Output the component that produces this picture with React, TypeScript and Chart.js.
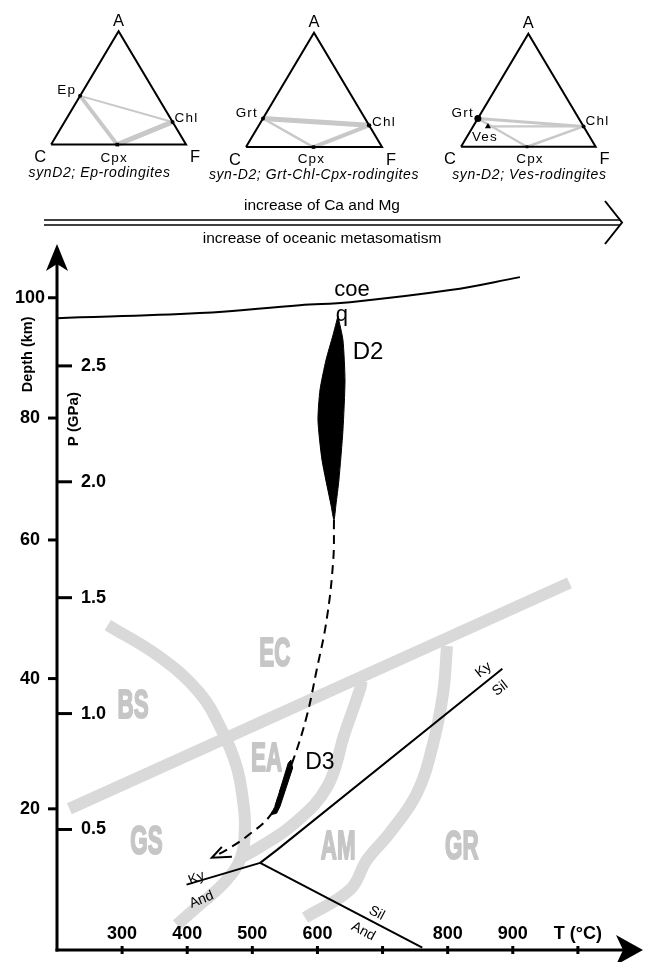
import React, { useEffect, useRef } from 'react';
import { Chart, registerables } from 'chart.js';

Chart.register(...registerables);

const SANS = '"Liberation Sans", Arial, Helvetica, sans-serif';
const W = 652;
const H = 962;
const TRI_H = 192;

// ---------------- axis ticks ----------------
const temperatureRange = [200, 1100];
const pressureRange = [-0.02, 3.0];
const temperatureTicks = [300, 400, 500, 600, 700, 800, 900, 1000];
const temperatureTickLabels = ['300', '400', '500', '600', '', '800', '900', 'T (°C)'];
const pressureTicks = [0.5, 1.0, 1.5, 2.0, 2.5];
const pressureTickLabels = ['0.5', '1.0', '1.5', '2.0', '2.5'];
const depthTickLabels = ['20', '40', '60', '80', '100'];
const depthTickPressure = [0.589, 1.151, 1.749, 2.275, 2.794];

// ---------------- P-T diagram lines, [T (°C), P (GPa)] ----------------
const faciesStraight = [[219, 0.589], [987, 1.564]];
const faciesArcBS = [[278, 1.382], [358, 1.244], [419, 1.089], [455, 0.917], [476, 0.77], [485.5, 0.628], [488.6, 0.511], [482.4, 0.378], [458, 0.274], [419, 0.175], [384, 0.089]];
const faciesArcEA = [[668, 1.141], [665, 1.102], [642, 0.917], [615, 0.684], [562, 0.52], [512, 0.425], [482, 0.378]];
const faciesArcAM = [[799, 1.292], [793, 1.089], [778, 0.874], [753, 0.658], [711.5, 0.486], [676, 0.369], [650, 0.24], [581, 0.119]];
const coeQuartz = [[200, 2.706], [419, 2.728], [573, 2.762], [650, 2.775], [804, 2.827], [911, 2.883]];
const kyaniteSillimanite = [[512, 0.356], [538, 0.412], [884, 1.193]];
const kyaniteAndalusite = [[399, 0.262], [512, 0.356]];
const andalusiteSillimanite = [[512, 0.356], [761, -0.01]];
const d2Field = [[631.5, 2.715], [639.2, 2.611], [642.3, 2.439], [639.2, 2.223], [633, 2.008], [628.4, 1.9], [625.4, 1.835], [620.8, 1.9], [607, 2.094], [600.8, 2.266], [603.9, 2.396], [613.1, 2.525], [623.9, 2.633], [631.5, 2.715]];
const d3Field = [[559.3, 0.8], [561.9, 0.765], [542.4, 0.599], [537.3, 0.57], [528.1, 0.563], [534.7, 0.599], [555.1, 0.786], [559.3, 0.8]];
const retrogradePath = [[625.4, 1.835], [624.3, 1.663], [614.1, 1.404], [598.8, 1.188], [583.4, 0.987], [562.8, 0.8], [545, 0.68], [528.1, 0.563], [491.2, 0.47], [460.4, 0.412], [439.8, 0.382]];
const retrogradeArrowHead = [[453.2, 0.425], [437.8, 0.378], [468.6, 0.382]];

const faciesNames = ['BS', 'EC', 'EA', 'GS', 'AM', 'GR'];
const faciesLabelAt = [[316.8, 1.03], [534.7, 1.253], [522, 0.8], [337.4, 0.441], [632, 0.419], [821.7, 0.419]];

// ---------------- ternary (A-C-F) diagrams ----------------
const epMinerals = [
  { name: 'Ep', a: 0.43, f: 0.0 },
  { name: 'Chl', a: 0.2, f: 0.8 },
  { name: 'Cpx', a: 0.0, f: 0.49 },
];
const epTies = [['Ep', 'Chl'], ['Ep', 'Cpx'], ['Cpx', 'Chl']];
const grtMinerals = [
  { name: 'Grt', a: 0.25, f: 0.0 },
  { name: 'Chl', a: 0.19, f: 0.81 },
  { name: 'Cpx', a: 0.0, f: 0.496 },
];
const grtTies = [['Grt', 'Chl'], ['Grt', 'Cpx'], ['Cpx', 'Chl']];
const vesMinerals = [
  { name: 'Grt', a: 0.25, f: 0.0 },
  { name: 'Ves', a: 0.18, f: 0.11 },
  { name: 'Chl', a: 0.18, f: 0.82 },
  { name: 'Cpx', a: 0.0, f: 0.49 },
];
const vesTies = [['Grt', 'Chl'], ['Ves', 'Chl'], ['Grt', 'Cpx'], ['Cpx', 'Chl']];
const vertexNames = ['A', 'C', 'F'];
const ternaryCaptions = ['synD2; Ep-rodingites', 'syn-D2; Grt-Chl-Cpx-rodingites', 'syn-D2; Ves-rodingites'];
const trendLabels = ['increase of Ca and Mg', 'increase of oceanic metasomatism'];

// ---------------- helpers ----------------
const pts = (arr: number[][]) => arr.map(([x, y]) => ({ x, y }));
const ternaryXY = (a: number, f: number) => ({ x: f + a / 2, y: (a * Math.sqrt(3)) / 2 });

function txt(ctx: CanvasRenderingContext2D, s: string, x: number, y: number, font: string, color: string, align: CanvasTextAlign = 'center', rot = 0, sx = 1, spacing = '0px', stroke = 0) {
  ctx.save();
  ctx.translate(x, y);
  if (rot) ctx.rotate((rot * Math.PI) / 180);
  if (sx !== 1) ctx.scale(sx, 1);
  ctx.font = font;
  ctx.fillStyle = color;
  ctx.textAlign = align;
  ctx.textBaseline = 'middle';
  try { (ctx as any).letterSpacing = spacing; } catch (e) { /* ignore */ }
  ctx.fillText(s, 0, 0);
  if (stroke) {
    ctx.strokeStyle = color;
    ctx.lineWidth = stroke;
    ctx.lineJoin = 'round';
    ctx.strokeText(s, 0, 0);
  }
  ctx.restore();
}

// ---------------- main P-T chart ----------------
const ptDecorPlugin = {
  id: 'ptDecor',
  afterDatasetsDraw(chart: any) {
    const { ctx, chartArea: ca } = chart;
    const xs = chart.scales.x;
    const ys = chart.scales.y;
    const x0 = ca.left;
    const y0 = ca.bottom;
    const X = (t: number) => xs.getPixelForValue(t);
    const Y = (p: number) => ys.getPixelForValue(p);
    ctx.save();
    ctx.strokeStyle = '#000';
    ctx.fillStyle = '#000';
    ctx.lineWidth = 3;
    ctx.lineCap = 'butt';
    // vertical axis + arrow
    ctx.beginPath(); ctx.moveTo(x0, y0 + 1.5); ctx.lineTo(x0, ca.top + 14); ctx.stroke();
    ctx.beginPath();
    ctx.moveTo(x0, ca.top - 6); ctx.lineTo(x0 + 11, ca.top + 21); ctx.lineTo(x0, ca.top + 14); ctx.lineTo(x0 - 11, ca.top + 21);
    ctx.closePath(); ctx.fill();
    // horizontal axis + arrow
    ctx.beginPath(); ctx.moveTo(x0 - 1.5, y0); ctx.lineTo(ca.right - 14, y0); ctx.stroke();
    ctx.beginPath();
    ctx.moveTo(ca.right, y0); ctx.lineTo(ca.right - 27, y0 - 15); ctx.lineTo(ca.right - 20, y0); ctx.lineTo(ca.right - 27, y0 + 15);
    ctx.closePath(); ctx.fill();
    // temperature ticks
    const tickFont = `bold 18px ${SANS}`;
    temperatureTicks.forEach((t, i) => {
      const px = X(t);
      ctx.beginPath(); ctx.moveTo(px, y0 - 4); ctx.lineTo(px, y0 + 4); ctx.stroke();
      if (temperatureTickLabels[i]) txt(ctx, temperatureTickLabels[i], px, y0 - 16, tickFont, '#000');
    });
    // pressure ticks (inside)
    pressureTicks.forEach((p, i) => {
      const py = Y(p);
      ctx.beginPath(); ctx.moveTo(x0, py); ctx.lineTo(x0 + 15, py); ctx.stroke();
      txt(ctx, pressureTickLabels[i], x0 + 24, py, tickFont, '#000', 'left');
    });
    // depth ticks (outside)
    depthTickPressure.forEach((p, i) => {
      const py = Y(p);
      ctx.beginPath(); ctx.moveTo(x0 - 9, py); ctx.lineTo(x0, py); ctx.stroke();
      txt(ctx, depthTickLabels[i], x0 - 27, py, tickFont, '#000');
    });
    // axis titles
    txt(ctx, 'Depth (km)', x0 - 29, Y(2.55), `bold 14.5px ${SANS}`, '#000', 'center', -90);
    txt(ctx, 'P (GPa)', x0 + 17, Y(2.27), `bold 15px ${SANS}`, '#000', 'center', -90);

    // facies labels
    faciesNames.forEach((n, i) => {
      txt(ctx, n, X(faciesLabelAt[i][0]), Y(faciesLabelAt[i][1]), `bold 40px ${SANS}`, '#c6c6c6', 'center', 0, 0.56, '0px', 2);
    });
    // line / field labels
    txt(ctx, 'coe', X(653), Y(2.827), `22px ${SANS}`, '#000');
    txt(ctx, 'q', X(637.6), Y(2.719), `22px ${SANS}`, '#000');
    txt(ctx, 'D2', X(677.6), Y(2.559), `24px ${SANS}`, '#000');
    txt(ctx, 'D3', X(603.8), Y(0.787), `23px ${SANS}`, '#000');
    const small = `14px ${SANS}`;
    txt(ctx, 'Ky', X(855), Y(1.188), small, '#000', 'center', -38);
    txt(ctx, 'Sil', X(880.6), Y(1.109), small, '#000', 'center', -38);
    txt(ctx, 'Ky', X(414.3), Y(0.29), small, '#000', 'center', -22);
    txt(ctx, 'And', X(422), Y(0.197), small, '#000', 'center', -22);
    txt(ctx, 'Sil', X(691), Y(0.139), small, '#000', 'center', 28);
    txt(ctx, 'And', X(670.4), Y(0.06), small, '#000', 'center', 28);

    // trend double arrow above the diagram
    const ax0 = x0 - 13;
    const ax1 = ca.right - 21;
    ctx.lineWidth = 1.6;
    ctx.beginPath(); ctx.moveTo(ax0, 220); ctx.lineTo(ax1 - 2, 220); ctx.stroke();
    ctx.beginPath(); ctx.moveTo(ax0, 225); ctx.lineTo(ax1 - 2, 225); ctx.stroke();
    ctx.lineWidth = 2;
    ctx.beginPath(); ctx.moveTo(ax1 - 17, 201); ctx.lineTo(ax1, 222.5); ctx.lineTo(ax1 - 17, 244); ctx.stroke();
    txt(ctx, trendLabels[0], 322, 206, `15.5px ${SANS}`, '#000');
    txt(ctx, trendLabels[1], 322, 239, `15.5px ${SANS}`, '#000');
    ctx.restore();
  },
};

function line(arr: number[][], color: string, width: number, extra: any = {}) {
  return { data: pts(arr), borderColor: color, borderWidth: width, pointRadius: 0, pointHitRadius: 0, fill: false, tension: 0, ...extra };
}

function PTChart() {
  const ref = useRef<HTMLCanvasElement>(null);
  useEffect(() => {
    const gray = '#d9d9d9';
    const band = { borderCapStyle: 'butt', borderJoinStyle: 'round', order: 5 };
    const chart = new Chart(ref.current as HTMLCanvasElement, {
      type: 'line',
      data: {
        datasets: [
          line(faciesStraight, gray, 12, band),
          line(faciesArcBS, gray, 12, { ...band, tension: 0.4 }),
          line(faciesArcEA, gray, 12, { ...band, tension: 0.4 }),
          line(faciesArcAM, gray, 12, { ...band, tension: 0.4 }),
          line(coeQuartz, '#000', 2, { tension: 0.4, order: 2 }),
          line(kyaniteSillimanite, '#000', 2, { order: 2 }),
          line(kyaniteAndalusite, '#000', 2, { order: 2 }),
          line(andalusiteSillimanite, '#000', 2, { order: 2 }),
          line(retrogradePath, '#000', 2, { tension: 0.4, borderDash: [9, 6], order: 2 }),
          line(retrogradeArrowHead, '#000', 2, { order: 1 }),
          line(d2Field, '#000', 1, { fill: 'shape', backgroundColor: '#000', tension: 0.2, order: 1 }),
          line(d3Field, '#000', 1, { fill: 'shape', backgroundColor: '#000', order: 1 }),
        ] as any,
      },
      options: {
        responsive: false,
        animation: false,
        events: [],
        layout: { padding: { left: 57, right: 9, top: 250, bottom: 12 } },
        scales: {
          x: { type: 'linear', display: false, min: temperatureRange[0], max: temperatureRange[1] },
          y: { type: 'linear', display: false, min: pressureRange[0], max: pressureRange[1] },
        },
        plugins: { legend: { display: false }, tooltip: { enabled: false } },
      },
      plugins: [ptDecorPlugin],
    });
    return () => chart.destroy();
  }, []);
  return <canvas ref={ref} width={W} height={H} style={{ position: 'absolute', left: 0, top: 0 }} />;
}

// ---------------- ternary chart ----------------
type TernarySpec = {
  minerals: { name: string; a: number; f: number }[];
  ties: string[][];
  caption: string;
  frame: { cx: number; by: number; w: number };
  tieWidths: number[];
  markers: { r: number; style: string }[];
  labelPos: Record<string, [number, number, CanvasTextAlign]>;
  captionDx: number;
};

const ternarySpecs: TernarySpec[] = [
  {
    minerals: epMinerals, ties: epTies, caption: ternaryCaptions[0],
    frame: { cx: 47.7, by: 146.7, w: 136.6 },
    tieWidths: [2, 4, 5],
    markers: [{ r: 2, style: 'circle' }, { r: 2, style: 'circle' }, { r: 2.5, style: 'rect' }],
    labelPos: { Ep: [-4, -6, 'right'], Chl: [2, -4, 'left'], Cpx: [-3, 14, 'center'] },
    captionDx: -19,
  },
  {
    minerals: grtMinerals, ties: grtTies, caption: ternaryCaptions[1],
    frame: { cx: 245, by: 149.3, w: 137.7 },
    tieWidths: [5, 2.5, 4],
    markers: [{ r: 2, style: 'circle' }, { r: 2.2, style: 'circle' }, { r: 2.5, style: 'rect' }],
    labelPos: { Grt: [-5, -5, 'right'], Chl: [3, -3, 'left'], Cpx: [-2, 12, 'center'] },
    captionDx: 0,
  },
  {
    minerals: vesMinerals, ties: vesTies, caption: ternaryCaptions[2],
    frame: { cx: 462.7, by: 149, w: 136.3 },
    tieWidths: [3, 2.2, 2.2, 2.5],
    markers: [{ r: 3.5, style: 'circle' }, { r: 3.5, style: 'triangle' }, { r: 2, style: 'circle' }, { r: 2, style: 'rect' }],
    labelPos: { Grt: [-4, -5, 'right'], Ves: [-3, 11, 'center'], Chl: [2, -5, 'left'], Cpx: [3, 12, 'center'] },
    captionDx: 1,
  },
];

function Ternary({ spec }: { spec: TernarySpec }) {
  const ref = useRef<HTMLCanvasElement>(null);
  useEffect(() => {
    const { cx, by, w } = spec.frame;
    const pos: Record<string, { x: number; y: number }> = {};
    spec.minerals.forEach((m) => { pos[m.name] = ternaryXY(m.a, m.f); });
    const vertices = [ternaryXY(1, 0), ternaryXY(0, 0), ternaryXY(0, 1)]; // A, C, F
    const outline = [vertices[1], vertices[2], vertices[0], vertices[1]];
    const labels = {
      id: 'ternaryLabels',
      afterDatasetsDraw(chart: any) {
        const { ctx } = chart;
        const X = (v: number) => chart.scales.x.getPixelForValue(v);
        const Y = (v: number) => chart.scales.y.getPixelForValue(v);
        const vOff = [[0, -10], [-11, 13], [9, 13]];
        vertexNames.forEach((n, i) => {
          txt(ctx, n, X(vertices[i].x) + vOff[i][0], Y(vertices[i].y) + vOff[i][1], `16.5px ${SANS}`, '#000');
        });
        spec.minerals.forEach((m) => {
          const [dx, dy, al] = spec.labelPos[m.name];
          txt(ctx, m.name, X(pos[m.name].x) + dx, Y(pos[m.name].y) + dy, `13.5px ${SANS}`, '#000', al, 0, 1, '1.2px');
        });
        txt(ctx, spec.caption, X(0.5) + spec.captionDx, Y(0) + 28.5, `italic 14px ${SANS}`, '#000', 'center', 0, 1, '0.6px');
      },
    };
    const chart = new Chart(ref.current as HTMLCanvasElement, {
      type: 'line',
      data: {
        datasets: [
          {
            data: spec.minerals.map((m) => pos[m.name]),
            showLine: false,
            pointRadius: spec.markers.map((k) => k.r),
            pointStyle: spec.markers.map((k) => k.style),
            pointBackgroundColor: '#000',
            pointBorderColor: '#000',
            pointBorderWidth: 0,
            order: 0,
          },
          { data: outline, borderColor: '#000', borderWidth: 2, pointRadius: 0, borderJoinStyle: 'miter', order: 1 },
          ...spec.ties.map((t, i) => ({
            data: [pos[t[0]], pos[t[1]]], borderColor: '#c8c8c8', borderWidth: spec.tieWidths[i], pointRadius: 0, order: 2,
          })),
        ] as any,
      },
      options: {
        responsive: false,
        animation: false,
        events: [],
        layout: { padding: 0 },
        scales: {
          x: { type: 'linear', display: false, min: -cx / w, max: (W - cx) / w },
          y: { type: 'linear', display: false, min: -(TRI_H - by) / w, max: by / w },
        },
        plugins: { legend: { display: false }, tooltip: { enabled: false } },
      },
      plugins: [labels],
    });
    return () => chart.destroy();
  }, [spec]);
  return <canvas ref={ref} width={W} height={TRI_H} style={{ position: 'absolute', left: 0, top: 0 }} />;
}

export default function App() {
  useEffect(() => {
    document.body.style.margin = '0';
    document.body.style.background = '#fff';
  }, []);
  return (
    <div style={{ position: 'relative', width: W, height: H, background: '#fff', overflow: 'hidden' }}>
      <PTChart />
      {ternarySpecs.map((s, i) => <Ternary key={i} spec={s} />)}
    </div>
  );
}
